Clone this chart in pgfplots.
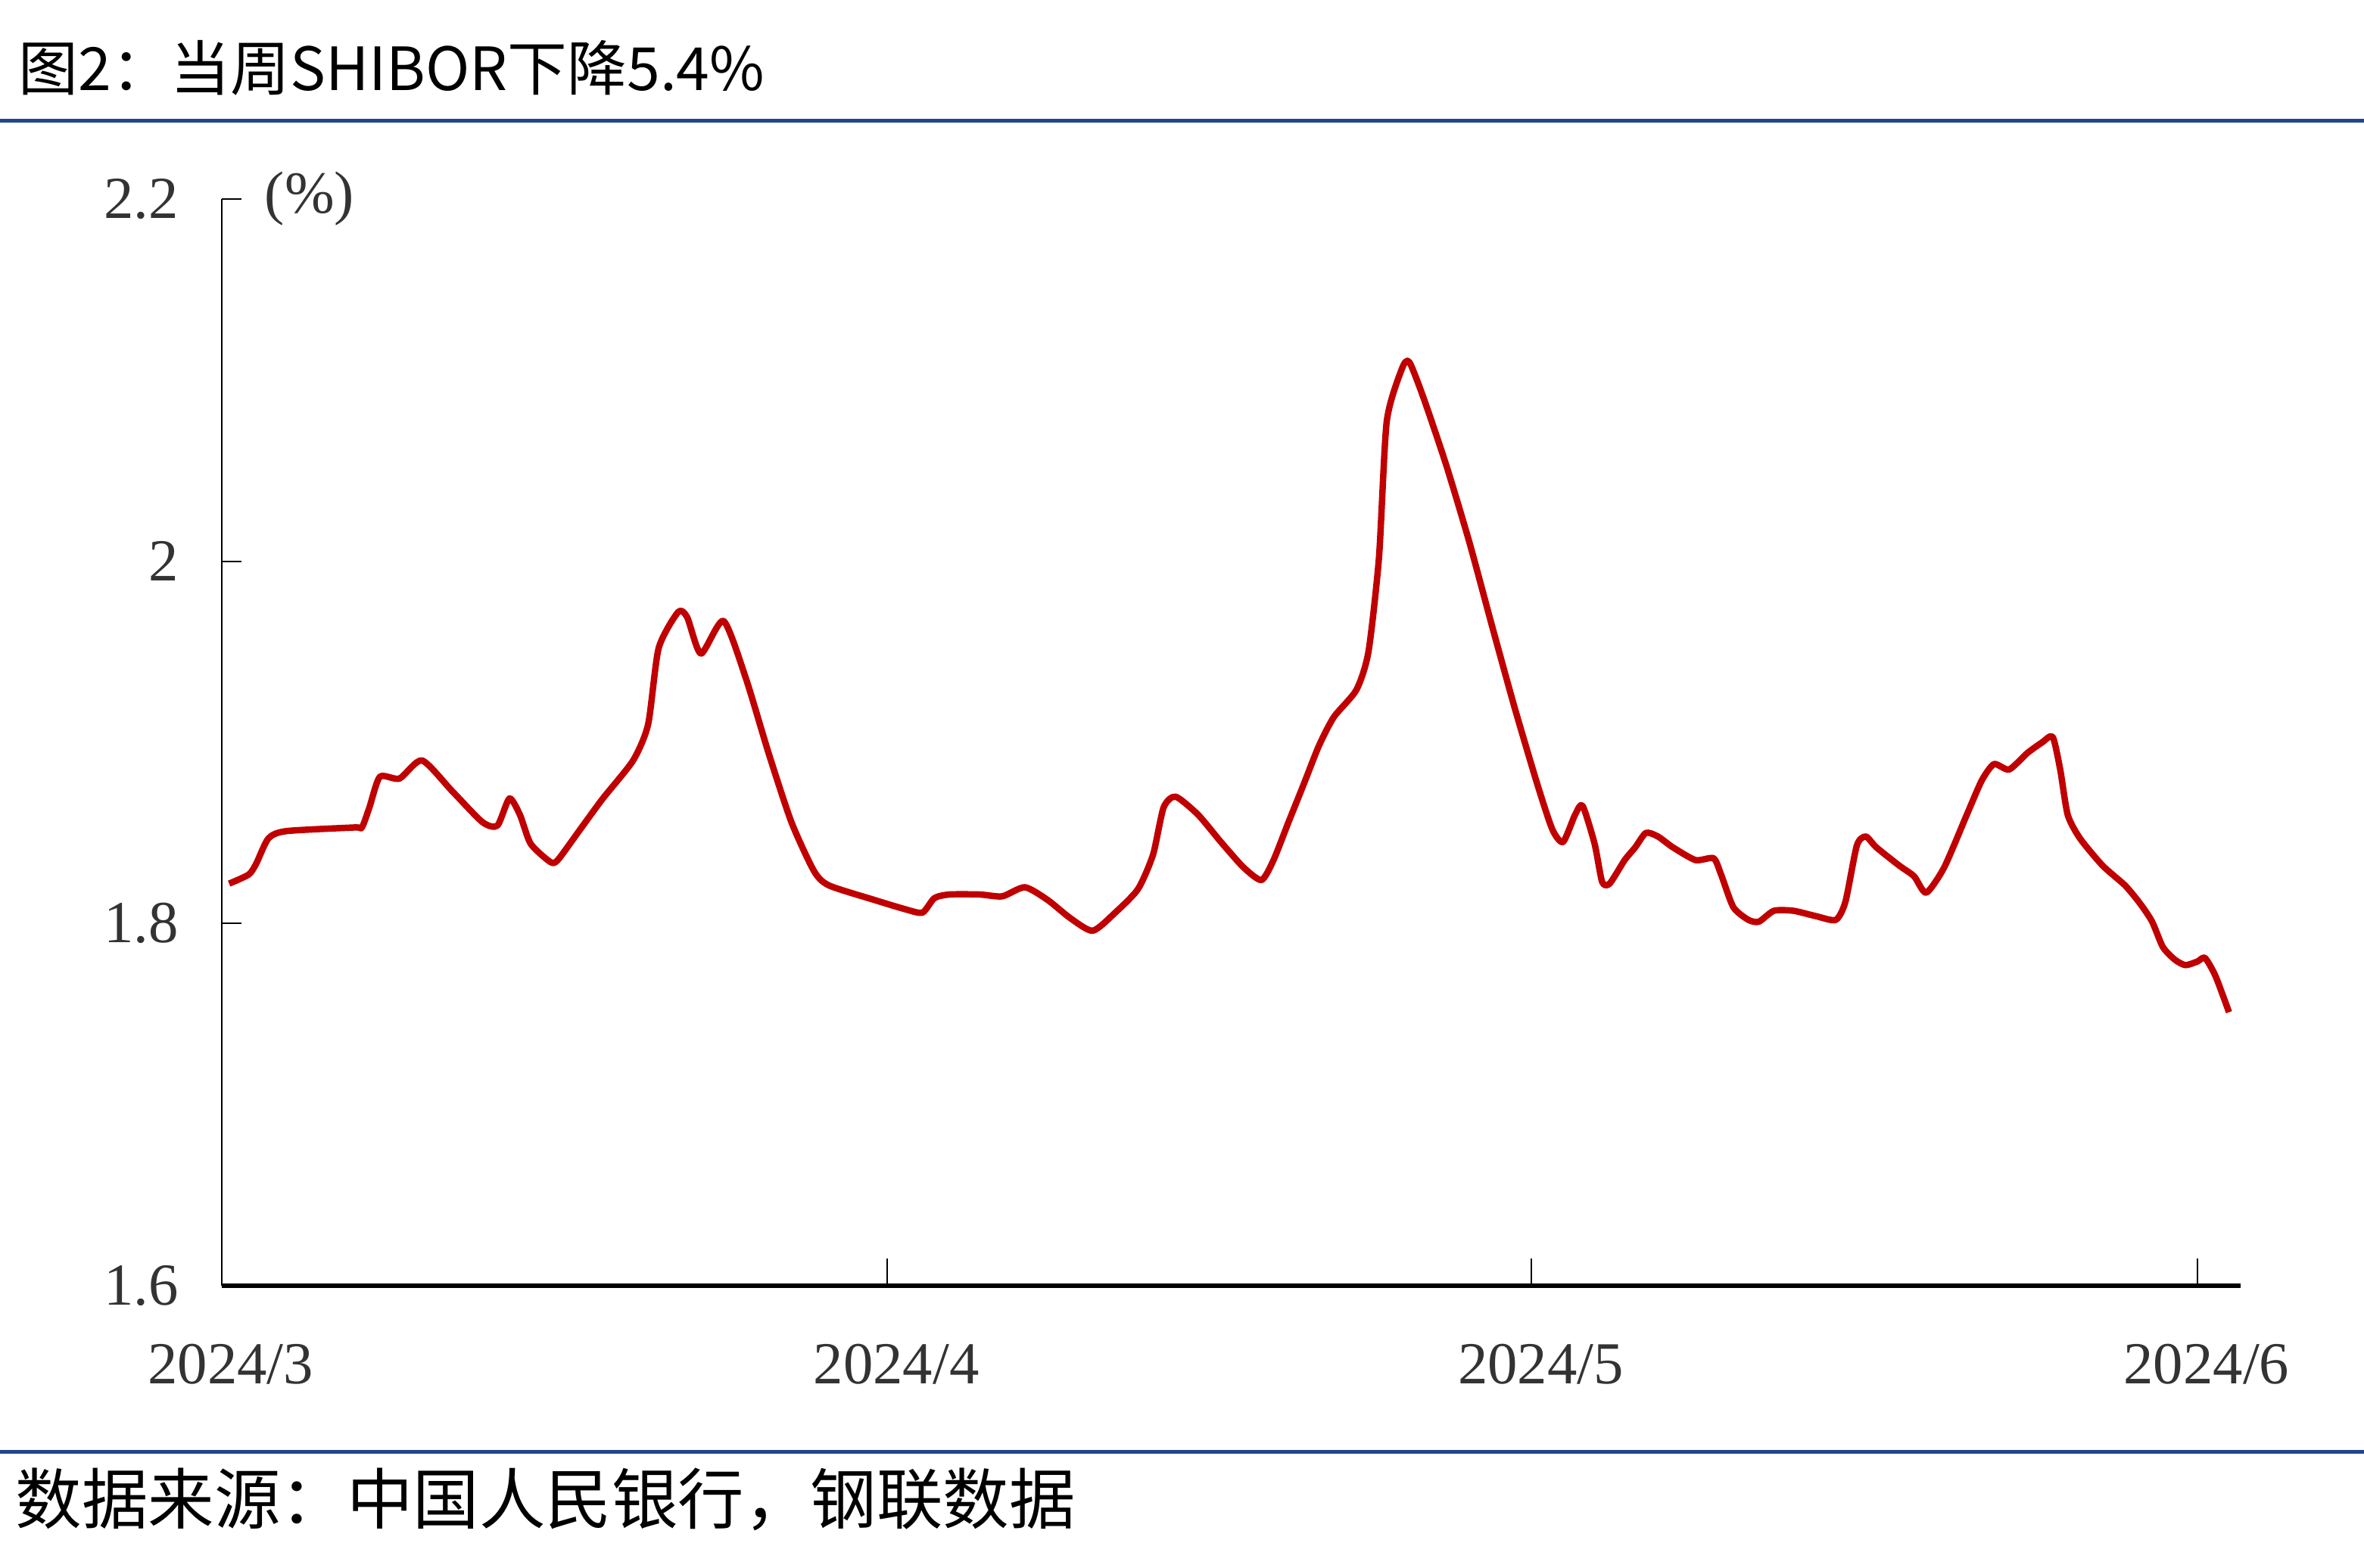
\documentclass[border=0pt]{standalone}
\usepackage{fontspec}
\setmainfont{Liberation Serif}
\newfontfamily\cjk{Noto Sans CJK SC}
\usepackage{pgfplots}
\pgfplotsset{compat=1.18}
\definecolor{rulebl}{HTML}{1F4690}
\definecolor{shibor}{HTML}{C00000}
\definecolor{ticktxt}{HTML}{333333}

% days counted from 2024/3/1, SHIBOR in %
\pgfplotstableread{
d v
0.35 1.822
1.26 1.827
1.61 1.833
2.18 1.847
3.02 1.851
6.18 1.853
6.53 1.853
6.88 1.864
7.37 1.881
8.28 1.880
9.33 1.890
10.74 1.873
12.14 1.856
12.84 1.854
13.40 1.869
13.89 1.860
14.39 1.844
15.30 1.834
15.65 1.835
16.70 1.852
17.75 1.869
19.16 1.890
19.86 1.910
20.35 1.952
21.26 1.972
21.68 1.969
22.32 1.949
23.37 1.967
24.42 1.935
25.47 1.894
26.53 1.856
27.58 1.829
28.28 1.821
30.39 1.813
31.79 1.808
32.63 1.806
33.19 1.814
33.89 1.816
35.30 1.816
36.35 1.815
37.40 1.820
38.46 1.813
39.51 1.803
40.56 1.796
41.61 1.806
42.67 1.819
43.37 1.838
43.86 1.864
44.42 1.870
45.47 1.860
46.53 1.845
47.58 1.831
48.42 1.824
48.98 1.835
49.68 1.856
50.39 1.877
51.09 1.898
51.79 1.914
52.84 1.929
53.40 1.950
53.89 2.002
54.25 2.077
54.95 2.106
55.30 2.110
56.00 2.089
57.05 2.052
58.11 2.010
59.16 1.964
60.21 1.919
61.26 1.877
61.96 1.852
62.46 1.845
63.02 1.860
63.37 1.865
63.93 1.844
64.28 1.823
64.63 1.822
65.33 1.835
65.82 1.842
66.32 1.850
66.88 1.848
67.58 1.842
68.63 1.835
69.47 1.836
69.82 1.827
70.39 1.809
71.09 1.802
71.58 1.801
72.28 1.807
73.19 1.807
74.25 1.804
75.16 1.802
75.61 1.812
76.14 1.843
76.56 1.848
77.05 1.842
78.11 1.832
78.81 1.826
79.37 1.817
80.21 1.831
81.26 1.860
81.96 1.879
82.53 1.888
83.23 1.885
84.07 1.894
84.77 1.900
85.26 1.903
85.61 1.885
85.96 1.860
86.53 1.847
87.58 1.832
88.63 1.821
89.33 1.811
89.89 1.801
90.39 1.787
90.95 1.780
91.44 1.777
92.00 1.779
92.35 1.781
92.84 1.771
93.47 1.751
}\shibor

\begin{document}
\begin{tikzpicture}
\useasboundingbox (0,0) rectangle (31.36,-20.8);
\node[anchor=west, inner sep=0] at (0.24,-0.9)
  {\cjk\fontsize{22.5}{26}\selectfont 图2：当周SHIBOR下降5.4\%};
\draw[rulebl, line width=0.05cm] (0,-1.6) -- (31.36,-1.6);
\draw[rulebl, line width=0.05cm] (0,-19.26) -- (31.36,-19.26);
\node[anchor=west, inner sep=0] at (0.2,-19.9)
  {\cjk\fontsize{25}{28}\selectfont 数据来源：中国人民银行，钢联数据};

\begin{axis}[
  at={(2.94cm,-17.06cm)}, anchor=south west,
  scale only axis, width=26.78cm, height=14.42cm,
  xmin=0, xmax=94, ymin=1.6, ymax=2.2,
  axis x line*=bottom, axis y line*=left,
  x axis line style={-, line width=0.06cm},
  y axis line style={-, line width=0.7pt},
  xtick={0,31,61,92},
  xticklabels={2024/3,2024/4,2024/5,2024/6},
  ytick={1.6,1.8,2,2.2},
  tick align=inside,
  xtick style={black, line width=0.6pt, /pgfplots/major tick length=0.36cm},
  ytick style={black, line width=0.6pt, /pgfplots/major tick length=0.26cm},
  /pgf/number format/assume math mode=true,
  tick label style={font=\fontsize{22.5}{24}\selectfont, text=ticktxt},
  xticklabel style={yshift=-0.65cm, xshift=0.12cm},
  yticklabel style={xshift=-0.45cm},
  clip=false,
]
\addplot[shibor, line width=0.085cm, smooth, tension=0.4, line join=round]
  table[x=d, y=v] {\shibor};
\node[anchor=center, text=ticktxt, font=\fontsize{22.5}{24}\selectfont]
  at (rel axis cs:0.0435,1) {(\%)};
\end{axis}
\end{tikzpicture}
\end{document}
